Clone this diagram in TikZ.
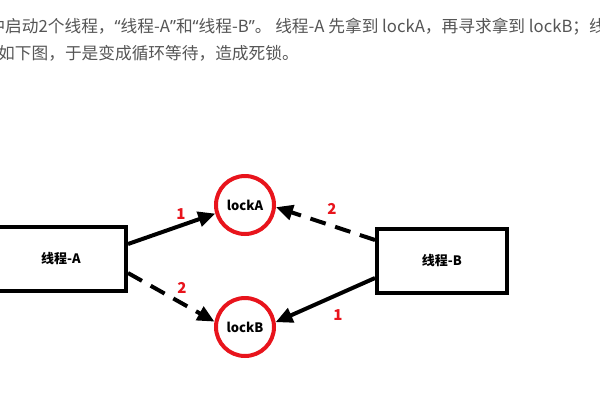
\documentclass[tikz,border=0pt]{standalone}
\usepackage{fontspec}
\setmainfont{Noto Sans CJK SC}
\newfontfamily\quotefont{Noto Sans}
\usepackage{tikz}
\usetikzlibrary{arrows.meta,positioning}
\definecolor{dlInk}{HTML}{000000}
\definecolor{dlText}{HTML}{555555}
\definecolor{dlRed}{HTML}{E8141C}
\newcommand{\openq}{{\quotefont “}}
\newcommand{\closeq}{{\quotefont ”}}
\tikzset{
  dl/thread/.style={draw=dlInk, line width=4pt, minimum width=130pt,
    minimum height=64pt, inner sep=0pt, align=center,
    font=\fontsize{13}{15}\selectfont\bfseries},
  dl/lock/.style={circle, draw=dlRed, line width=4pt, minimum size=58pt,
    inner sep=0pt, font=\fontsize{13}{15}\selectfont\bfseries},
  dl/hold/.style={-{Triangle[length=17pt,width=15pt]}, draw=dlInk,
    line width=4pt},
  dl/wait/.style={dl/hold, dash pattern=on 16pt off 10pt},
  dl/order/.style={font=\fontsize{15}{17}\selectfont\bfseries, text=dlRed,
    inner sep=0pt},
  dl/intro/.style={font=\fontsize{16.7}{20}\selectfont, text=dlText,
    inner sep=0pt, anchor=base west},
}

\begin{document}
\begin{tikzpicture}[x=1pt, y=-1pt]
\useasboundingbox (0,0) rectangle (600,400);
\fill[white] (0,0) rectangle (600,400);
\clip (0,0) rectangle (600,400);
% paragraph above the figure (cut at both sides)
\node[dl/intro] (lineOne) at (-11.7,32) {中启动2个线程，\openq 线程-A\closeq 和\openq 线程-B\closeq 。 线程-A 先拿到 lockA，再寻求拿到 lockB；线};
\node[dl/intro] (lineTwo) at (-2,59) {如下图，于是变成循环等待，造成死锁。};
% threads and locks
\node[dl/thread] (threadA) at (61,259) {线程-A};
\node[dl/thread] (threadB) at (442,261) {线程-B};
\node[dl/lock] (lockA) at (245,205) {lockA};
\node[dl/lock] (lockB) at (245,327) {lockB};
% requests
\draw[dl/hold] ([yshift=15pt]threadA.east) -- (lockA.196);
\draw[dl/wait] ([yshift=-14pt]threadA.east) -- (lockB.170);
\draw[dl/wait] ([yshift=21pt]threadB.west) -- (lockA.356);
\draw[dl/hold] ([yshift=-17pt]threadB.west) -- (lockB.9);
\node[dl/order] (orderA1) at (181,214) {1};
\node[dl/order] (orderA2) at (182,288) {2};
\node[dl/order] (orderB2) at (332,209) {2};
\node[dl/order] (orderB1) at (338,315) {1};
\end{tikzpicture}
\end{document}
